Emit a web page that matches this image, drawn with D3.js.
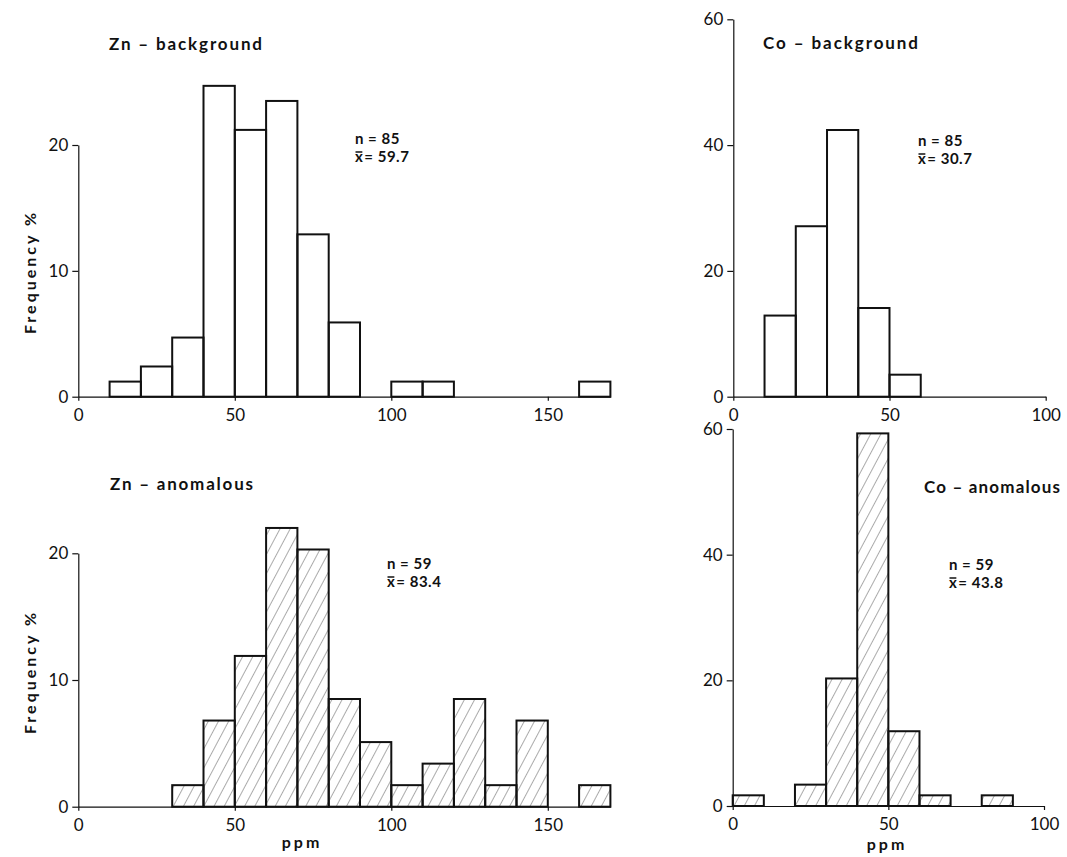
<!DOCTYPE html>
<html>
<head>
<meta charset="utf-8">
<script src="https://cdn.jsdelivr.net/npm/d3@7"></script>
<style>
  body { margin: 0; background: #fff; }
  svg { display: block; }
  .tick text { font-family: Lato, sans-serif; font-size: 17px; fill: #111; }
  .tick line, .domain { stroke: #111; stroke-width: 1.2; }
  .title { font-family: Lato, sans-serif; font-weight: bold; font-size: 17px; fill: #111; }
  .stats { font-family: Lato, sans-serif; font-weight: bold; font-size: 15px; letter-spacing: 0.5px; fill: #111; }
  .axis-label { font-family: Lato, sans-serif; font-weight: bold; font-size: 16px; letter-spacing: 3px; fill: #111; }
</style>
</head>
<body>
<svg id="chart"></svg>
<script>
// bin starts (ppm), each bin is 10 ppm wide
const znBins = [0, 10, 20, 30, 40, 50, 60, 70, 80, 90, 100, 110, 120, 130, 140, 150, 160];
const coBins = [0, 10, 20, 30, 40, 50, 60, 70, 80, 90];

// frequency %
const znBackground = [0, 1.2, 2.4, 4.7, 24.7, 21.2, 23.5, 12.9, 5.9, 0, 1.2, 1.2, 0, 0, 0, 0, 1.2];
const znAnomalous = [0, 0, 0, 1.7, 6.8, 11.9, 22.0, 20.3, 8.5, 5.1, 1.7, 3.4, 8.5, 1.7, 6.8, 0, 1.7];
const coBackground = [0, 12.9, 27.1, 42.4, 14.1, 3.5, 0, 0, 0, 0];
const coAnomalous = [1.7, 0, 3.4, 20.3, 59.3, 11.9, 1.7, 0, 1.7, 0];

const znTicksX = [0, 50, 100, 150];
const znTicksY = [0, 10, 20];
const coTicksX = [0, 50, 100];
const coTicksY = [0, 20, 40, 60];

const binWidth = 10;
const width = 1067;
const height = 857;

const svg = d3.select('#chart')
  .attr('width', width)
  .attr('height', height);

const defs = svg.append('defs');
defs.append('pattern')
  .attr('id', 'hatch')
  .attr('patternUnits', 'userSpaceOnUse')
  .attr('width', 9)
  .attr('height', 9)
  .attr('patternTransform', 'rotate(28)')
  .append('line')
  .attr('x1', 0).attr('y1', 0)
  .attr('x2', 0).attr('y2', 9)
  .attr('stroke', '#444')
  .attr('stroke-width', 0.9);

const panels = [
  {
    bins: znBins, values: znBackground, hatched: false,
    xDomain: [0, 170], xRange: [78.3, 610.4], xTicks: znTicksX,
    yDomain: [0, 20], yRange: [396.7, 145], yTicks: znTicksY,
    title: 'Zn \u2013 background', titlePos: [109, 50], titleWidth: 153,
    n: '85', mean: '59.7', statsPos: [355, 144],
    yLabel: [36, 272], xLabel: null
  },
  {
    bins: coBins, values: coBackground, hatched: false,
    xDomain: [0, 100], xRange: [733.3, 1045.7], xTicks: coTicksX,
    yDomain: [0, 60], yRange: [396.7, 19.3], yTicks: coTicksY,
    title: 'Co \u2013 background', titlePos: [763, 49], titleWidth: 155,
    n: '85', mean: '30.7', statsPos: [918, 146],
    yLabel: null, xLabel: null
  },
  {
    bins: znBins, values: znAnomalous, hatched: true,
    xDomain: [0, 170], xRange: [78.3, 610.4], xTicks: znTicksX,
    yDomain: [0, 20], yRange: [806.7, 553.3], yTicks: znTicksY,
    title: 'Zn \u2013 anomalous', titlePos: [110, 490], titleWidth: 143,
    n: '59', mean: '83.4', statsPos: [387, 569],
    yLabel: [36, 672], xLabel: [302, 848]
  },
  {
    bins: coBins, values: coAnomalous, hatched: true,
    xDomain: [0, 100], xRange: [732.7, 1044], xTicks: coTicksX,
    yDomain: [0, 60], yRange: [806, 429], yTicks: coTicksY,
    title: 'Co \u2013 anomalous', titlePos: [924, 493], titleWidth: 136,
    n: '59', mean: '43.8', statsPos: [949, 570],
    yLabel: null, xLabel: [887, 850]
  }
];

panels.forEach(function(p) {
  const x = d3.scaleLinear().domain(p.xDomain).range(p.xRange);
  const y = d3.scaleLinear().domain(p.yDomain).range(p.yRange);
  const g = svg.append('g');

  const data = p.bins.map(function(b, i) {
    return { x0: b, x1: b + binWidth, v: p.values[i] };
  }).filter(function(d) { return d.v > 0; });

  g.append('g')
    .attr('transform', 'translate(0,' + p.yRange[0] + ')')
    .call(d3.axisBottom(x).tickValues(p.xTicks).tickSize(4).tickSizeOuter(0).tickPadding(8));

  g.append('g')
    .attr('transform', 'translate(' + p.xRange[0] + ',0)')
    .call(d3.axisLeft(y).tickValues(p.yTicks).tickSize(6).tickSizeOuter(0).tickPadding(4));

  g.append('g').selectAll('rect')
    .data(data)
    .enter()
    .append('rect')
    .attr('x', function(d) { return x(d.x0); })
    .attr('y', function(d) { return y(d.v); })
    .attr('width', function(d) { return x(d.x1) - x(d.x0); })
    .attr('height', function(d) { return y(0) - y(d.v); })
    .attr('fill', p.hatched ? 'url(#hatch)' : 'none')
    .attr('stroke', '#111')
    .attr('stroke-width', 2);

  g.append('text').attr('class', 'title')
    .attr('x', p.titlePos[0])
    .attr('y', p.titlePos[1])
    .attr('textLength', p.titleWidth)
    .attr('lengthAdjust', 'spacing')
    .text(p.title);

  g.append('text').attr('class', 'stats')
    .attr('x', p.statsPos[0])
    .attr('y', p.statsPos[1])
    .text('n = ' + p.n);

  // x-bar: an x with a short line drawn over it
  const meanY = p.statsPos[1] + 18;
  const xChar = g.append('text').attr('class', 'stats')
    .attr('x', p.statsPos[0])
    .attr('y', meanY)
    .text('x');
  const xw = xChar.node().getComputedTextLength();
  g.append('line')
    .attr('x1', p.statsPos[0] + 0.5)
    .attr('x2', p.statsPos[0] + xw - 1)
    .attr('y1', meanY - 10)
    .attr('y2', meanY - 10)
    .attr('stroke', '#111')
    .attr('stroke-width', 1.5);
  g.append('text').attr('class', 'stats')
    .attr('x', p.statsPos[0] + xw + 1)
    .attr('y', meanY)
    .text('= ' + p.mean);

  if (p.yLabel) {
    g.append('text').attr('class', 'axis-label')
      .attr('transform', 'translate(' + p.yLabel[0] + ',' + p.yLabel[1] + ') rotate(-90)')
      .attr('text-anchor', 'middle')
      .text('Frequency  %');
  }
  if (p.xLabel) {
    g.append('text').attr('class', 'axis-label')
      .attr('x', p.xLabel[0])
      .attr('y', p.xLabel[1])
      .attr('text-anchor', 'middle')
      .text('ppm');
  }
});
</script>
</body>
</html>
